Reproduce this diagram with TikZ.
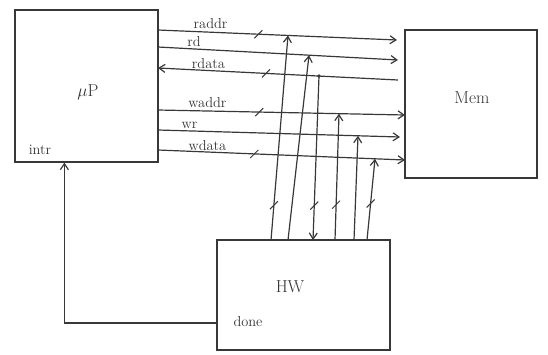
\documentclass[tikz,border=0pt]{standalone}
\usetikzlibrary{arrows.meta,calc}
\begin{document}
\begin{tikzpicture}[x=1pt,y=-1pt,
  ink/.style={draw=black!78,line width=1.2pt},
  blockbox/.style={ink,rectangle,inner sep=0pt},
  sigto/.style={ink,-{Straight Barb[length=6pt,width=8pt]}},
  sigfrom/.style={ink,{Straight Barb[length=6pt,width=8pt]}-},
  lbl/.style={font=\Large,inner sep=1pt,text=black!80},
  bigl/.style={font=\LARGE,inner sep=1pt,text=black!80},
  tickmark/.style={ink,line width=1pt}]
\useasboundingbox (0,0) rectangle (548,354);

% blocks
\node[blockbox,minimum width=143pt,minimum height=152pt] (up) at (86.5,86) {};
\node[blockbox,minimum width=132pt,minimum height=148pt] (mem) at (471,104) {};
\node[blockbox,minimum width=173pt,minimum height=110pt] (hw) at (303.5,295) {};
\node[bigl] (uplbl) at (88,92) {$\mu$P};
\node[bigl] (memlbl) at (472,98) {Mem};
\node[bigl] (hwlbl) at (290,287) {HW};
\node[lbl] (intrlbl) at (40,150) {intr};
\node[lbl] (donelbl) at (248,322) {done};

% bus end points
\coordinate (ra1) at (158,30);  \coordinate (ra2) at (397,40);
\coordinate (rd1) at (158,47);  \coordinate (rd2) at (398,60);
\coordinate (rt1) at (158,68);  \coordinate (rt2) at (398,80);
\coordinate (wa1) at (158,110); \coordinate (wa2) at (405,115);
\coordinate (wr1) at (158,130); \coordinate (wr2) at (400,137);
\coordinate (wt1) at (158,150); \coordinate (wt2) at (405,160);

% read / write signals between processor and memory
\draw[sigto] (ra1) -- (ra2) node[lbl,pos=0.22,above=2pt] (ralbl) {raddr};
\draw[sigto] (rd1) -- (rd2) node[lbl,pos=0.15,above=1pt] (rdlbl) {rd};
\draw[sigfrom] (rt1) -- (rt2) node[lbl,pos=0.21,above=0pt] (rtlbl) {rdata};
\draw[sigto] (wa1) -- (wa2) node[lbl,pos=0.2,above=2pt] (walbl) {waddr};
\draw[sigto] (wr1) -- (wr2) node[lbl,pos=0.13,above=1pt] (wrlbl) {wr};
\draw[sigto] (wt1) -- (wt2) node[lbl,pos=0.2,above=0pt] (wtlbl) {wdata};

% taps from the hardware block
\coordinate (h1) at (271,240); \coordinate (t1) at (288,35.5);
\coordinate (h2) at (288,240); \coordinate (t2) at (309,55.2);
\coordinate (h3) at (313,240); \coordinate (t3) at (319,76);
\coordinate (h4) at (335,240); \coordinate (t4) at (339,113.7);
\coordinate (h5) at (354,240); \coordinate (t5) at (358,135.8);
\coordinate (h6) at (367,240); \coordinate (t6) at (375,158.8);

\draw[sigto] (h1) -- (t1);
\draw[sigto] (h2) -- (t2);
\draw[sigto] (t3) -- (h3);
\fill[black!78] (t3) circle (1.8pt);
\draw[sigto] (h4) -- (t4);
\draw[sigto] (h5) -- (t5);
\draw[sigto] (h6) -- (t6);

% bus width marks
\foreach \a/\b/\p in {ra1/ra2/0.42, rt1/rt2/0.45, wa1/wa2/0.41, wt1/wt2/0.39,
                      h1/t1/0.17, h3/t3/0.21, h4/t4/0.28, h6/t6/0.45}{
  \coordinate (m) at ($(\a)!\p!(\b)$);
  \draw[tickmark] ($(m)+(-4,4)$) -- ($(m)+(4,-4)$);
}

% interrupt line back to the processor
\coordinate (dn) at (hw.west |- 0,323);
\coordinate (ir) at ($(up.south west)+(50,0)$);
\draw[sigto] (dn) -| (ir);
\end{tikzpicture}
\end{document}
